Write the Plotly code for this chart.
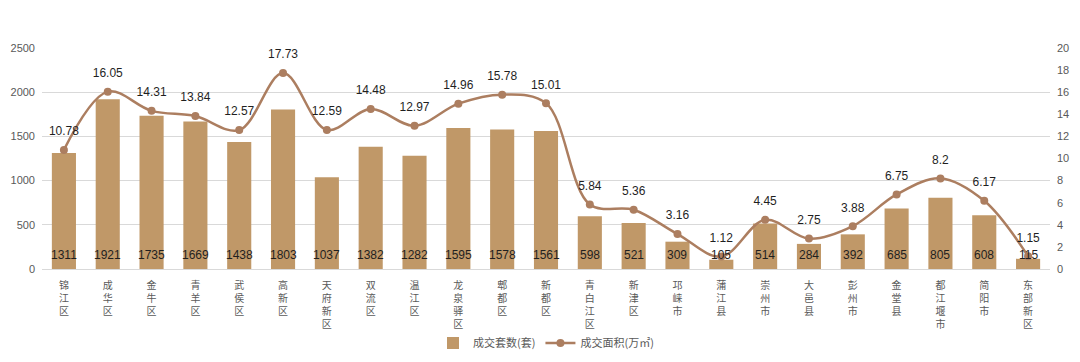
import plotly.graph_objects as go

categories = ["锦江区", "成华区", "金牛区", "青羊区", "武侯区", "高新区", "天府新区", "双流区", "温江区",
              "龙泉驿区", "郫都区", "新都区", "青白江区", "新津区", "邛崃市", "蒲江县", "崇州市", "大邑县",
              "彭州市", "金堂县", "都江堰市", "简阳市", "东部新区"]
units = [1311, 1921, 1735, 1669, 1438, 1803, 1037, 1382, 1282, 1595, 1578, 1561, 598, 521, 309, 105,
         514, 284, 392, 685, 805, 608, 115]
area = [10.78, 16.05, 14.31, 13.84, 12.57, 17.73, 12.59, 14.48, 12.97, 14.96, 15.78, 15.01, 5.84, 5.36,
        3.16, 1.12, 4.45, 2.75, 3.88, 6.75, 8.2, 6.17, 1.15]
left_ticks = [0, 500, 1000, 1500, 2000, 2500]
right_ticks = [0, 2, 4, 6, 8, 10, 12, 14, 16, 18, 20]

tick_text = ["<br>".join(list(c)) for c in categories]

BAR = "#C09868"
LINE = "#AC7E60"
CJK = "Noto Sans CJK SC"
LAT = "Liberation Sans"

fig = go.Figure()
fig.add_trace(go.Bar(
    x=categories, y=units, name="成交套数(套)", marker=dict(color=BAR, line=dict(width=0)),
    width=0.55, yaxis="y",
))
fig.add_trace(go.Scatter(
    x=categories, y=area, name="成交面积(万㎡)", mode="lines+markers",
    line=dict(color=LINE, width=2.5, shape="spline", smoothing=1.0),
    marker=dict(color=LINE, size=8),
    yaxis="y2", cliponaxis=False,
))
fig.add_trace(go.Scatter(
    x=categories, y=area, mode="markers+text", showlegend=False, hoverinfo="skip",
    marker=dict(color="rgba(0,0,0,0)", size=17),
    text=[str(v) for v in area], textposition="top center",
    textfont=dict(color="#1F1F1F", size=12, family=LAT),
    yaxis="y2", cliponaxis=False,
))

# bar value labels near the bar base
for c, v in zip(categories, units):
    fig.add_annotation(x=c, y=0, xref="x", yref="y", text=str(v), showarrow=False,
                       yanchor="bottom", yshift=5,
                       font=dict(color="#1F1F1F", size=12, family=LAT))

fig.update_layout(
    width=1064, height=346,
    margin=dict(l=34, r=22, t=40, b=85, autoexpand=False),
    paper_bgcolor="white", plot_bgcolor="white",
    font=dict(family=CJK, color="#595959", size=11),
    showlegend=True,
    legend=dict(orientation="h", x=0.5, xanchor="center", y=-0.335, yanchor="middle",
                font=dict(size=11, color="#595959", family=CJK), tracegroupgap=0),
    xaxis=dict(tickmode="array", tickvals=categories, ticktext=tick_text, tickangle=0,
               range=[-0.5, len(categories) - 0.5],
               showline=True, linecolor="#D9D9D9", linewidth=1, ticks="", automargin=False,
               ticklabelstandoff=7,
               tickfont=dict(size=10, color="#595959", family=CJK), showgrid=False),
    yaxis=dict(range=[0, 2500], tickvals=left_ticks, showgrid=True, gridcolor="#D9D9D9",
               zeroline=False, tickfont=dict(size=11, color="#595959", family=LAT),
               ticks="", ticklabelstandoff=6, automargin=False),
    yaxis2=dict(range=[0, 20], tickvals=right_ticks, overlaying="y", side="right", showgrid=False,
                zeroline=False, tickfont=dict(size=11, color="#595959", family=LAT),
                ticks="", ticklabelstandoff=6, automargin=False),
)

fig.write_html("out.html")
